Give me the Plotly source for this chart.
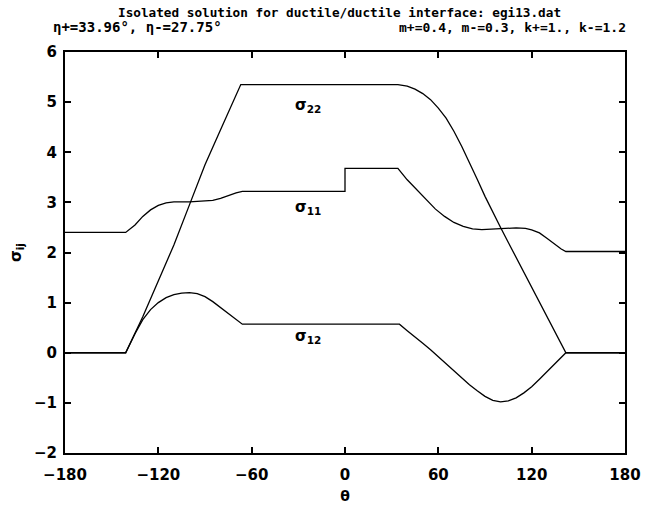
import plotly.graph_objects as go

# sigma_11
theta_11 = [-180, -141, -135, -130, -125, -120, -115, -110, -100, -90, -85, -80, -75, -70, -66,
            -30, 0, 0, 34, 40, 46, 52, 58, 64, 70, 76, 82, 88, 95, 103, 110, 116, 120, 125, 130,
            135, 139, 142, 180]
sigma_11 = [2.4, 2.4, 2.55, 2.72, 2.85, 2.94, 2.99, 3.01, 3.01, 3.02, 3.04, 3.08, 3.14, 3.19, 3.22,
            3.22, 3.22, 3.68, 3.68, 3.45, 3.25, 3.05, 2.87, 2.72, 2.6, 2.52, 2.47, 2.455, 2.46, 2.48,
            2.49, 2.48, 2.45, 2.39, 2.28, 2.16, 2.07, 2.02, 2.02]

# sigma_22
theta_22 = [-180, -141, -130, -120, -110, -100, -90, -80, -75, -70, -67, 34, 40, 45, 50, 55, 60,
            65, 70, 75, 80, 85, 90, 95, 100, 105, 110, 115, 120, 125, 130, 135, 142, 180]
sigma_22 = [0, 0, 0.72, 1.42, 2.15, 2.95, 3.75, 4.45, 4.8, 5.12, 5.35, 5.35, 5.32, 5.26, 5.17,
            5.05, 4.88, 4.68, 4.42, 4.12, 3.8, 3.46, 3.12, 2.8, 2.5, 2.2, 1.9, 1.6, 1.3, 1.0, 0.7,
            0.42, 0.0, 0.0]

# sigma_12
theta_12 = [-180, -141, -135, -130, -125, -120, -115, -110, -105, -100, -95, -90, -85, -80, -75,
            -70, -66, 0, 35, 40, 45, 50, 55, 60, 65, 70, 75, 80, 85, 90, 95, 100, 105, 110, 115,
            120, 125, 130, 135, 142, 180]
sigma_12 = [0, 0, 0.38, 0.66, 0.86, 1.0, 1.1, 1.16, 1.19, 1.2, 1.18, 1.12, 1.02, 0.9, 0.77,
            0.65, 0.57, 0.57, 0.57, 0.44, 0.32, 0.19, 0.06, -0.08, -0.22, -0.36, -0.5, -0.64, -0.76,
            -0.87, -0.95, -0.98, -0.96, -0.9, -0.8, -0.68, -0.53, -0.37, -0.22, 0.0, 0.0]

x_ticks = [-180, -120, -60, 0, 60, 120, 180]
y_ticks = [-2, -1, 0, 1, 2, 3, 4, 5, 6]

curve_labels = ["σ<sub>22</sub>", "σ<sub>11</sub>", "σ<sub>12</sub>"]
label_x = [-24, -24, -24]
label_y = [4.94, 2.9, 0.33]

FONT = "DejaVu Sans"
MONO = "DejaVu Sans Mono"

fig = go.Figure()
for th, sg in [(theta_11, sigma_11), (theta_22, sigma_22), (theta_12, sigma_12)]:
    fig.add_trace(go.Scatter(x=th, y=sg, mode="lines",
                             line=dict(color="black", width=1.3), showlegend=False,
                             hoverinfo="skip"))

for t, lx, ly in zip(curve_labels, label_x, label_y):
    fig.add_annotation(x=lx, y=ly, text=t, showarrow=False,
                       font=dict(family=FONT, size=15, color="black", weight="bold"))

fig.add_annotation(xref="paper", yref="paper", x=0.49, y=1.0, yshift=40, yanchor="middle",
                   text="Isolated solution for ductile/ductile interface: egi13.dat",
                   showarrow=False, font=dict(family=MONO, size=12.7, color="black", weight="bold"))
fig.add_annotation(xref="paper", yref="paper", x=0.0, y=1.0, yshift=25, xshift=-14, xanchor="left",
                   yanchor="middle", text="η+=33.96°, η-=27.75°",
                   showarrow=False, font=dict(family=MONO, size=14, color="black", weight="bold"))
fig.add_annotation(xref="paper", yref="paper", x=1.0, y=1.0, yshift=25, xshift=3, xanchor="right",
                   yanchor="middle", text="m+=0.4, m-=0.3, k+=1., k-=1.2",
                   showarrow=False, font=dict(family=MONO, size=13, color="black", weight="bold"))

axis_common = dict(showgrid=False, zeroline=False, showline=True, linecolor="black", linewidth=2,
                   mirror="ticks", ticks="inside", ticklen=6, tickwidth=1.5, tickcolor="black",
                   ticklabeloverflow="allow",
                   tickfont=dict(family=FONT, size=15, color="black", weight="bold"))

fig.update_layout(
    width=653, height=515,
    margin=dict(l=65, r=15, t=52, b=62),
    paper_bgcolor="white", plot_bgcolor="white",
    xaxis=dict(range=[-180, 180], tickvals=x_ticks,
               ticktext=[str(v).replace("-", "−") for v in x_ticks], ticklabelstandoff=7,
               title=dict(text="θ", font=dict(family=FONT, size=14, color="black", weight="bold"),
                          standoff=8),
               **axis_common),
    yaxis=dict(range=[-2, 6], tickvals=y_ticks,
               ticktext=[str(v).replace("-", "−") for v in y_ticks], ticklabelstandoff=3,
               title=dict(text="σ<sub>ij</sub>", font=dict(family=FONT, size=15, color="black", weight="bold"),
                          standoff=9),
               **axis_common),
)

fig.write_html("out.html")
